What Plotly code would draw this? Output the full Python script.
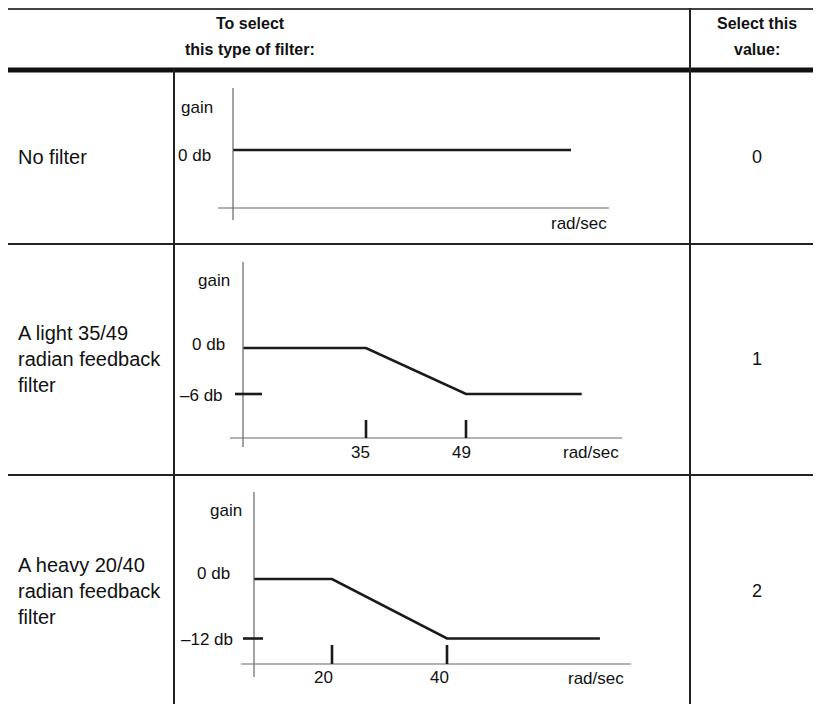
import plotly.graph_objects as go

# table text
header_left = ["To select", "this type of filter:"]
header_right = ["Select this", "value:"]
filter_names = ["No filter",
                "A light 35/49<br>radian feedback<br>filter",
                "A heavy 20/40<br>radian feedback<br>filter"]
select_values = ["0", "1", "2"]

# schematic gain curves: rad/sec vs db
none_x = [0, 100]
none_gain = [0, 0]
light_x = [17.8, 35, 49, 65.2]
light_gain = [0, 0, -6, -6]
heavy_x = [6.4, 20, 40, 66.6]
heavy_gain = [0, 0, -12, -12]
light_corners = [35, 49]
heavy_corners = [20, 40]
light_floor = -6
heavy_floor = -12

# page has an 8px body margin, so the figure starts at (8, 8)
OX, OY = 8, 8
W, H = 813, 696
LINE = "#1a1a1a"
AXC = "#666666"
FONT = "Liberation Sans, Arial, sans-serif"
NARROW = "Liberation Sans Narrow, Liberation Sans, Arial, sans-serif"


def px(x):
    return (x - OX) / W


def py(y):
    return 1 - (y - OY) / H


def rng(p0, p1, va, pa, vb, pb):
    s = (pb - pa) / (vb - va)
    a = va + (p0 - pa) / s
    b = va + (p1 - pa) / s
    return sorted([a, b])


shapes = []
annots = []


def seg(x0, y0, x1, y1, w, color, xref="paper", yref="paper"):
    shapes.append(dict(type="line", x0=x0, y0=y0, x1=x1, y1=y1, xref=xref, yref=yref,
                       line=dict(color=color, width=w), layer="above"))


def text(t, x, y, size, xanchor="center", xref="paper", yref="paper", xshift=0, yshift=0,
         family=FONT, bold=False, align="center"):
    if bold:
        t = "<b>" + t + "</b>"
    annots.append(dict(text=t, x=x, y=y, xref=xref, yref=yref, xanchor=xanchor, yanchor="middle",
                       showarrow=False, xshift=xshift, yshift=yshift, align=align,
                       font=dict(family=family, size=size, color="#111")))


# table grid
seg(px(8), py(9), px(821), py(9), 2, "#444")
seg(px(8), py(70), px(821), py(70), 5, "#111")
seg(px(8), py(244), px(821), py(244), 2, "#222")
seg(px(8), py(475), px(821), py(475), 2, "#222")
seg(px(174), py(70), px(174), py(704), 2, "#222")
seg(px(690), py(8), px(690), py(704), 2, "#222")

for line_txt, yy in zip(header_left, [23, 50]):
    text(line_txt, px(250), py(yy), 16, family=NARROW, bold=True)
for line_txt, yy in zip(header_right, [23, 50]):
    text(line_txt, px(757), py(yy), 16, family=NARROW, bold=True)

row_y = [157, 359, 591]
for name, val, yy in zip(filter_names, select_values, row_y):
    text(name, px(16), py(yy), 20, xanchor="left", align="left")
    text(val, px(757), py(yy), 18)

# diagram boxes: (left, right, top, bottom) in px, and anchors
boxes = [
    dict(box=(218, 609, 88, 220), xa=(none_x[0], 233, none_x[1], 571), ya=(0, 150, -8, 208),
         xs=none_x, ys=none_gain, yaxis_px=233, xaxis_py=208),
    dict(box=(230, 622, 262, 447), xa=(light_corners[0], 366, light_corners[1], 466),
         ya=(0, 348, light_floor, 394), xs=light_x, ys=light_gain, yaxis_px=243, xaxis_py=438),
    dict(box=(241, 631, 492, 677), xa=(heavy_corners[0], 332, heavy_corners[1], 447),
         ya=(0, 579, heavy_floor, 638.5), xs=heavy_x, ys=heavy_gain, yaxis_px=254, xaxis_py=664),
]

fig = go.Figure()
layout_axes = {}
for i, b in enumerate(boxes, start=1):
    l, r, t, btm = b["box"]
    xr = rng(l, r, *b["xa"])
    yr = rng(btm, t, *b["ya"])
    sfx = "" if i == 1 else str(i)
    layout_axes["xaxis" + sfx] = dict(domain=[px(l), px(r)], range=xr, visible=False,
                                      anchor="y" + sfx, fixedrange=True)
    layout_axes["yaxis" + sfx] = dict(domain=[py(btm), py(t)], range=yr, visible=False,
                                      anchor="x" + sfx, fixedrange=True)
    fig.add_trace(go.Scatter(x=b["xs"], y=b["ys"], mode="lines", xaxis="x" + sfx, yaxis="y" + sfx,
                             line=dict(color=LINE, width=2.6), cliponaxis=False,
                             showlegend=False, hoverinfo="skip"))
    # axis lines
    seg(px(b["yaxis_px"]), py(t), px(b["yaxis_px"]), py(btm), 1.2, AXC)
    seg(px(l), py(b["xaxis_py"]), px(r), py(b["xaxis_py"]), 1.2, AXC)

LS = 17
# row 1 labels
text("gain", px(197), py(107), LS, family=NARROW)
text("0 db", px(194), 0, LS, yref="y", yshift=-5, family=NARROW)
text("rad/sec", px(609), py(223), LS, xanchor="right", family=NARROW)

# row 2 labels
text("gain", px(214), py(280), LS, family=NARROW)
text("0 db", px(208), 0, LS, yref="y2", yshift=4, family=NARROW)
text("–6 db", px(201), light_floor, LS, yref="y2", yshift=-1, family=NARROW)
seg(px(235), light_floor, px(262), light_floor, 2.6, LINE, yref="y2")
for c, xs in zip(light_corners, [-6, -5]):
    seg(c, py(420), c, py(438), 2.6, LINE, xref="x2")
    text(str(c), c, py(452), LS, xref="x2", xshift=xs, family=NARROW)
text("rad/sec", px(621), py(452), LS, xanchor="right", family=NARROW)

# row 3 labels
text("gain", px(226), py(510), LS, family=NARROW)
text("0 db", px(213), 0, LS, yref="y3", yshift=6, family=NARROW)
text("–12 db", px(207), heavy_floor, LS, yref="y3", yshift=-1, family=NARROW)
seg(px(243), heavy_floor, px(263), heavy_floor, 2.6, LINE, yref="y3")
for c, xs in zip(heavy_corners, [-9, -8]):
    seg(c, py(645), c, py(664), 2.6, LINE, xref="x3")
    text(str(c), c, py(677), LS, xref="x3", xshift=xs, family=NARROW)
text("rad/sec", px(626), py(678), LS, xanchor="right", family=NARROW)

fig.update_layout(width=W, height=H, margin=dict(l=0, r=0, t=0, b=0),
                  paper_bgcolor="white", plot_bgcolor="rgba(0,0,0,0)",
                  shapes=shapes, annotations=annots, **layout_axes)
fig.write_html("out.html")
